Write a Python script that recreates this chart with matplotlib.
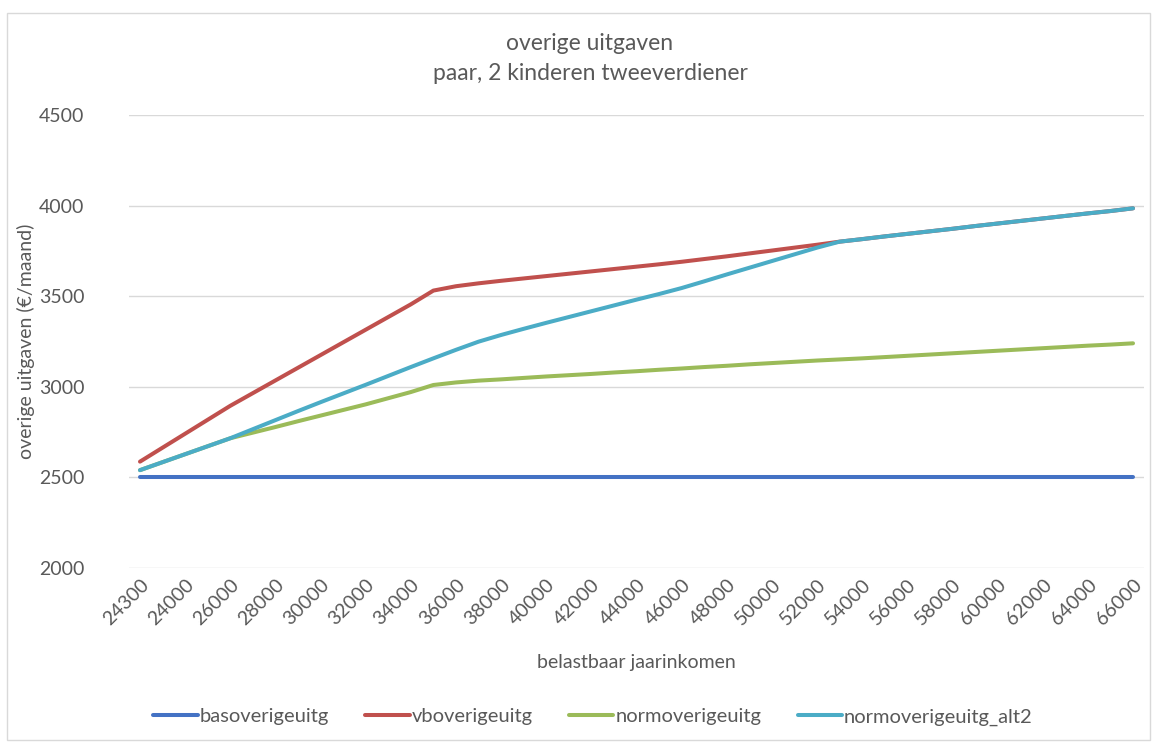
import numpy as np
import matplotlib
matplotlib.use("Agg")
import matplotlib.pyplot as plt
from matplotlib.patches import Rectangle

plt.rcParams['font.family'] = ['Lato', 'DejaVu Sans']

# categories (only every other one is labelled in the chart)
inkomen = ["24300", "23000"] + [str(v) for v in range(24000, 66001, 1000)]

basoverigeuitg = [2500] * 45

vboverigeuitg = [2587, 2664, 2741, 2818, 2895, 2965, 3035, 3105, 3175, 3245,
                 3315, 3385, 3455, 3531, 3555, 3571, 3585, 3598, 3611, 3624,
                 3637, 3650, 3663, 3676, 3690, 3705, 3720, 3736, 3752, 3768,
                 3784, 3801, 3815, 3830, 3844, 3858, 3872, 3887, 3901, 3915,
                 3929, 3943, 3957, 3970, 3985]

normoverigeuitg = [2540, 2584, 2628, 2672, 2716, 2747, 2778, 2810, 2841, 2872,
                   2903, 2937, 2971, 3010, 3024, 3034, 3041, 3049, 3057, 3064,
                   3071, 3079, 3086, 3094, 3101, 3109, 3116, 3124, 3131, 3138,
                   3145, 3151, 3157, 3164, 3171, 3178, 3185, 3192, 3199, 3206,
                   3213, 3220, 3227, 3233, 3240]

normoverigeuitg_alt2 = [2540, 2584, 2628, 2672, 2716, 2766, 2816, 2866, 2915, 2963,
                        3011, 3060, 3109, 3157, 3204, 3249, 3286, 3320, 3353, 3385,
                        3417, 3449, 3481, 3512, 3545, 3582, 3620, 3657, 3694, 3731,
                        3768, 3801, 3815, 3830, 3844, 3858, 3872, 3887, 3901, 3915,
                        3929, 3943, 3957, 3970, 3985]

series = [
    ("basoverigeuitg", basoverigeuitg, "#4472C4"),
    ("vboverigeuitg", vboverigeuitg, "#C0504D"),
    ("normoverigeuitg", normoverigeuitg, "#9BBB59"),
    ("normoverigeuitg_alt2", normoverigeuitg_alt2, "#4BACC6"),
]

W, H = 1160, 743
fig = plt.figure(figsize=(W / 100, H / 100), dpi=100)
ax = fig.add_axes([128.7 / W, (H - 568) / H, (1144.3 - 128.7) / W, 453 / H])

x = np.arange(len(inkomen))
for name, vals, col in series:
    ax.plot(x, vals, color=col, lw=2.9, label=name, solid_capstyle='round')

ax.set_xlim(-0.5, len(inkomen) - 0.5)
ax.set_ylim(2000, 4500)
ax.set_yticks(np.arange(2000, 4501, 500))
ax.grid(axis='y', color='#D9D9D9', lw=1)
ax.set_axisbelow(True)
for s in ax.spines.values():
    s.set_visible(False)
ax.tick_params(length=0, labelsize=14, colors='#595959')
ax.tick_params(axis='y', pad=32)
ax.tick_params(axis='x', pad=6)

ax.set_xticks(x[::2])
ax.set_xticklabels(inkomen[::2], rotation=45, ha='right', va='top',
                   rotation_mode='anchor')

ax.set_ylabel("overige uitgaven (€/maand)", fontsize=14, color='#595959', labelpad=3)
ax.set_xlabel("belastbaar jaarinkomen", fontsize=14, color='#595959', labelpad=18)

fig.text(590 / W, 1 - 44 / H, "overige uitgaven", ha='center', va='center',
         fontsize=16.5, color='#595959')
fig.text(590 / W, 1 - 73 / H, "paar, 2 kinderen tweeverdiener", ha='center',
         va='center', fontsize=16.5, color='#595959')

fig.legend(loc='center', bbox_to_anchor=(593 / W, 1 - 717 / H), ncol=4,
           frameon=False, fontsize=14.5, handlelength=2.2, handletextpad=0.1,
           columnspacing=1.8, labelcolor='#595959')

fig.patches.append(Rectangle((7 / W, 3 / H), 1143 / W, 727 / H, transform=fig.transFigure,
                             fill=False, edgecolor='#D9D9D9', lw=1))

fig.savefig("out.png", dpi=100)
